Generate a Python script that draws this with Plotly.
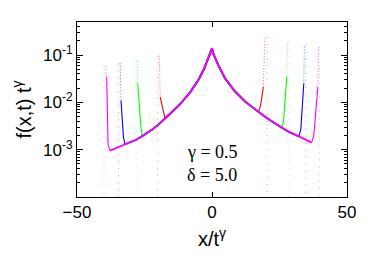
import plotly.graph_objects as go

# ---------------- data ----------------
colors = {"red": "#ff0000", "green": "#00ff00", "blue": "#0000ff", "magenta": "#ff00ff"}
series_names = ["red", "green", "blue", "magenta"]

# shared bulk profile (x/t^gamma, f*t^gamma)
main_x = [-37.8, -35.0, -32.0, -28.0, -24.8, -22.0, -19.0, -17.4, -15.0, -12.0, -8.0, -5.0, -3.0, -1.5, -0.5, 0.0,
          0.5, 1.5, 2.3, 4.8, 8.5, 12.2, 14.1, 15.9, 17.2, 20.3, 25.2, 28.0, 32.2, 36.9]
main_y = [9.55e-4, 1.12e-3, 1.32e-3, 1.62e-3, 2.09e-3, 2.69e-3, 3.72e-3, 4.57e-3, 6.03e-3, 8.91e-3, 1.66e-2,
          3.02e-2, 5.01e-2, 7.94e-2, 1.12e-1, 1.38e-1,
          1.07e-1, 7.59e-2, 6.17e-2, 3.24e-2, 1.70e-2, 1.05e-2, 8.51e-3, 7.08e-3, 6.31e-3, 4.68e-3, 3.02e-3,
          2.45e-3, 1.91e-3, 1.41e-3]

# left front of each series: minimum, corner, steep rise (solid), top (dotted); dotted column position
left_min_x = {"red": -17.4, "green": -25.8, "blue": -32.2, "magenta": -37.8}
left_min_y = {"red": 4.57e-3, "green": 1.95e-3, "blue": 1.30e-3, "magenta": 9.55e-4}
left_corner_x = {"red": -18.0, "green": -26.3, "blue": -32.8, "magenta": -38.5}
left_corner_y = {"red": 6.0e-3, "green": 2.8e-3, "blue": 1.85e-3, "magenta": 1.3e-3}
left_knee_x = {"red": -19.2, "green": -27.5, "blue": -33.7, "magenta": -39.0}
left_knee_y = {"red": 1.3e-2, "green": 2.5e-2, "blue": 1.1e-2, "magenta": 3.5e-2}
left_top_x = {"red": -19.5, "green": -27.6, "blue": -34.0, "magenta": -39.3}
left_top_y = {"red": 9.7e-2, "green": 7.6e-2, "blue": 6.7e-2, "magenta": 5.9e-2}
left_dot_x = {"red": -20.2, "green": -28.1, "blue": -34.6, "magenta": -40.0}

# right front of each series
right_min_x = {"red": 17.2, "green": 25.8, "blue": 32.2, "magenta": 36.9}
right_min_y = {"red": 6.31e-3, "green": 2.88e-3, "blue": 1.91e-3, "magenta": 1.41e-3}
right_corner_x = {"red": 18.0, "green": 26.5, "blue": 32.9, "magenta": 37.7}
right_corner_y = {"red": 8.5e-3, "green": 4.0e-3, "blue": 2.7e-3, "magenta": 2.0e-3}
right_knee_x = {"red": 19.0, "green": 27.7, "blue": 34.0, "magenta": 39.2}
right_knee_y = {"red": 2.1e-2, "green": 3.5e-2, "blue": 2.5e-2, "magenta": 2.1e-2}
right_top_x = {"red": 19.6, "green": 28.0, "blue": 34.2, "magenta": 39.5}
right_top_y = {"red": 2.4e-1, "green": 1.9e-1, "blue": 1.66e-1, "magenta": 1.45e-1}
right_dot_x = {"red": 20.4, "green": 28.6, "blue": 34.8, "magenta": 39.8}

bottom_y = 5e-5

x_ticks = [-50, 0, 50]
y_tick_vals = [1e-3, 1e-2, 1e-1]
y_tick_text = ["10<sup>-3</sup>", "10<sup>-2</sup>", "10<sup>-1</sup>"]
y_minor = [k * 10.0 ** e for e in range(-4, 0) for k in range(2, 10) if k * 10.0 ** e < 0.5]

fig = go.Figure()


def seg(xs, ys, c, width, dash="solid", opacity=1.0):
    fig.add_trace(go.Scatter(x=xs, y=ys, mode="lines", line=dict(color=c, width=width, dash=dash),
                             opacity=opacity, showlegend=False, hoverinfo="skip"))


for name in series_names:
    c = colors[name]
    # bulk part between the two minima
    xs, ys = [], []
    for xv, yv in zip(main_x, main_y):
        if left_min_x[name] < xv < right_min_x[name]:
            xs.append(xv)
            ys.append(yv)
    xs = [left_min_x[name]] + xs + [right_min_x[name]]
    ys = [left_min_y[name]] + ys + [right_min_y[name]]
    seg(xs, ys, c, 1.8)
    # solid lower part of the fronts
    seg([left_knee_x[name], left_corner_x[name], left_min_x[name]],
        [left_knee_y[name], left_corner_y[name], left_min_y[name]], c, 1.1)
    seg([right_min_x[name], right_corner_x[name], right_knee_x[name]],
        [right_min_y[name], right_corner_y[name], right_knee_y[name]], c, 1.1)
    # dotted upper part of the fronts
    seg([left_top_x[name], left_knee_x[name]], [left_top_y[name], left_knee_y[name]], c, 1, "1px,2px", 0.6)
    seg([right_knee_x[name], right_top_x[name]], [right_knee_y[name], right_top_y[name]], c, 1, "1px,2px", 0.6)
    # dotted columns falling to the bottom
    seg([left_dot_x[name], left_dot_x[name]], [left_top_y[name], bottom_y], c, 1, "1px,6px", 0.4)
    seg([right_dot_x[name], right_dot_x[name]], [right_top_y[name], bottom_y], c, 1, "1px,6px", 0.4)

# layout geometry: the page body adds an 8px offset, so the figure is 8px smaller
OFF = 8
W, H = 389 - OFF, 273 - OFF
# plot area in window pixels
PX0, PX1, PY0, PY1 = 77, 347, 22, 197
L, R, T, B = PX0 - OFF, 389 - PX1, PY0 - OFF, 273 - PY1
pw, ph = PX1 - PX0, PY1 - PY0

for txt, (px, py) in [("γ = 0.5", (185, 152)), ("δ = 5.0", (185, 175))]:
    fig.add_annotation(x=(px - PX0) / pw, y=1 - (py - PY0) / ph, xref="paper", yref="paper",
                       xanchor="left", yanchor="middle", text=txt, showarrow=False,
                       font=dict(family="Liberation Serif", size=18, color="black"))

fig.update_layout(
    width=W, height=H,
    margin=dict(l=L, r=R, t=T, b=B, autoexpand=False),
    paper_bgcolor="white", plot_bgcolor="white",
    font=dict(family="Liberation Sans", size=17, color="black"),
    showlegend=False,
    xaxis=dict(range=[-50, 50], tickvals=x_ticks, ticks="inside", ticklen=5, tickcolor="black",
               showline=True, linecolor="black", linewidth=1, mirror="allticks", showgrid=False,
               zeroline=False, automargin=False, title=dict(text="x/t<sup>γ</sup>", standoff=10),
               tickfont=dict(size=17)),
    yaxis=dict(type="log", range=[-4, -0.301], tickvals=y_tick_vals, ticktext=y_tick_text,
               ticks="inside", ticklen=6, tickcolor="black",
               minor=dict(tickvals=y_minor, ticks="inside", ticklen=3, tickcolor="black"),
               showline=True, linecolor="black", linewidth=1, mirror="allticks", showgrid=False,
               zeroline=False, automargin=False, title=dict(text="f(x,t) t<sup>γ</sup>", standoff=6),
               tickfont=dict(size=17)),
)

fig.write_html("out.html")
